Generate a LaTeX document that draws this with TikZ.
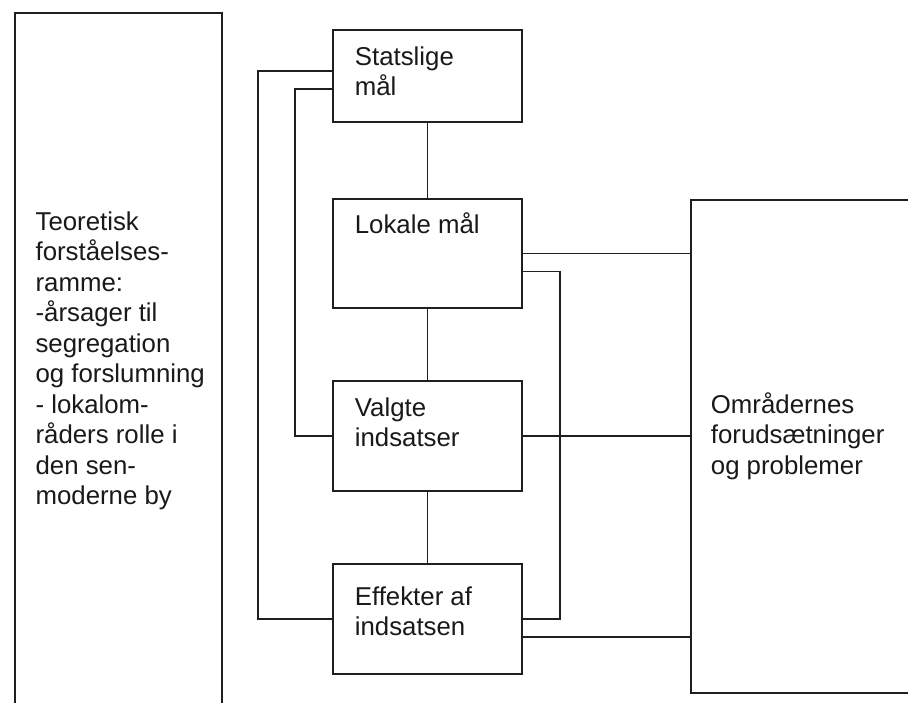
\documentclass[tikz,border=0pt]{standalone}
\usepackage{fontspec}
\setmainfont{Liberation Sans}
\begin{document}
\begin{tikzpicture}[x=1pt,y=-1pt,
  line width=1.8pt,
  conn/.style={draw=black!88,line width=1.8pt},
  box/.style={draw=black!88,line width=1.8pt,rectangle,inner sep=0pt,minimum width=189pt},
  lbl/.style={anchor=base west,inner sep=0pt,align=left,text=black!90,
    font=\fontsize{25.8pt}{30.5pt}\selectfont}]
\useasboundingbox (0,0) rectangle (908,702);
\clip (0,0) rectangle (908,702);
\fill[white] (0,0) rectangle (908,702);
% frames cut off by the picture's edge
\node[box,minimum width=207pt,minimum height=760pt,anchor=north west] (teo) at (14,12) {};
\node[box,minimum width=300pt,minimum height=493pt,anchor=north west] (omr) at (690,199) {};
% step boxes
\node[box,minimum height=92pt] (stat) at (427.5,76) {};
\node[box,minimum height=109pt] (lok) at (427.5,253.5) {};
\node[box,minimum height=110pt] (valg) at (427.5,436) {};
\node[box,minimum height=110pt] (eff) at (427.5,619) {};
% texts (anchor = baseline of the last line)
\node[lbl] (teot) at (34.7,504.5) {Teoretisk\\forståelses-\\ramme:\\-årsager til\\segregation\\og forslumning\\- lokalom-\\råders rolle i\\den sen-\\moderne by};
\node[lbl] (statt) at (354,95.5) {Statslige\\mål};
\node[lbl] (lokt) at (354,233.5) {Lokale mål};
\node[lbl] (valgt) at (354,446.5) {Valgte\\indsatser};
\node[lbl] (efft) at (354,635.5) {Effekter af\\indsatsen};
\node[lbl] (omrt) at (710,474) {Områdernes\\forudsætninger\\og problemer};
% connectors
\draw[conn] (stat.south) -- (lok.north);
\draw[conn] (lok.south) -- (valg.north);
\draw[conn] (valg.south) -- (eff.north);
\draw[conn] ([yshift=5.3pt]stat.west) -- ++(-74.3,0) |- (eff.west);
\draw[conn] ([yshift=-13pt]stat.west) -- ++(-37,0) |- (valg.west);
\draw[conn] (lok.east) -- (lok.east -| omr.west);
\draw[conn] ([yshift=-18pt]lok.east) -- ++(37,0) |- (eff.east);
\draw[conn] (valg.east) -- (valg.east -| omr.west);
\draw[conn] ([yshift=-17.7pt]eff.east) -- ([yshift=-17.7pt]eff.east -| omr.west);
\end{tikzpicture}
\end{document}
